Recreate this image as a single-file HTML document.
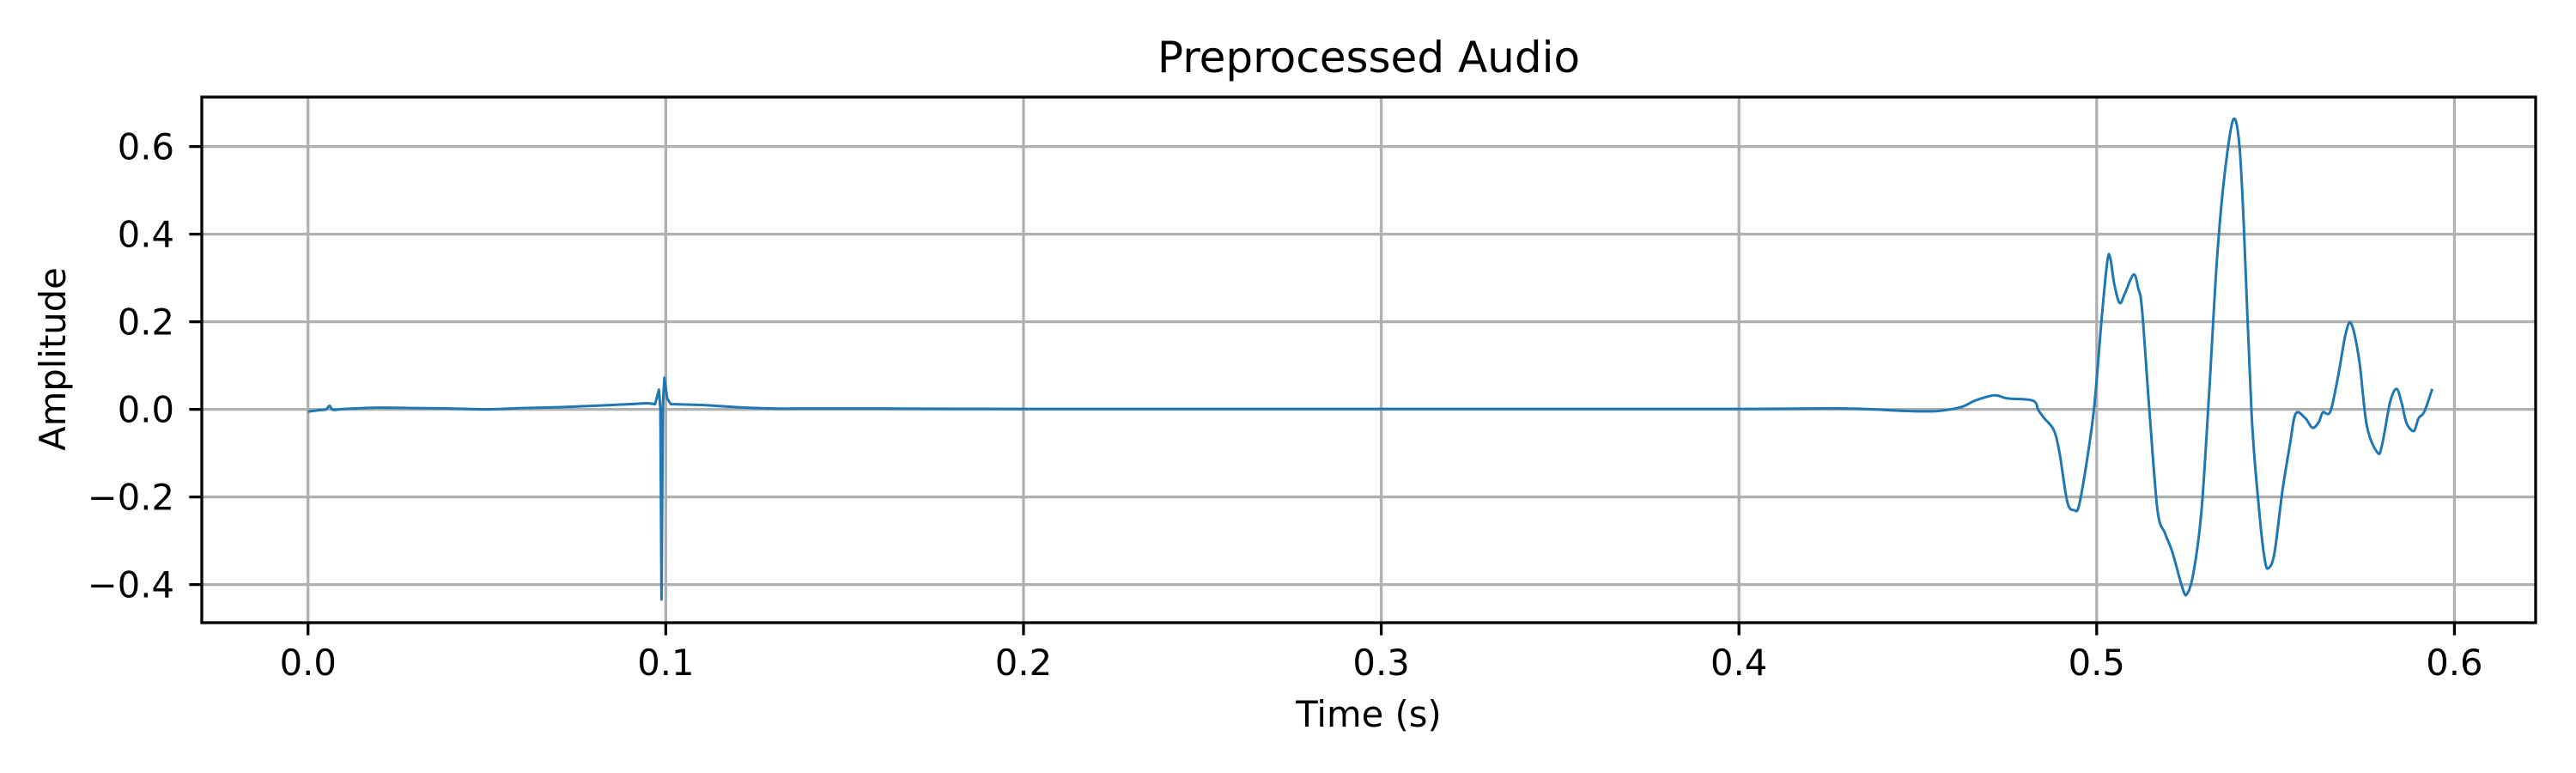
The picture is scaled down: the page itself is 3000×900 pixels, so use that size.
<!DOCTYPE html>
<html><head><meta charset="utf-8"><style>
html,body{margin:0;padding:0;background:#fff;}
svg{display:block;font-family:"DejaVu Sans","Liberation Sans",sans-serif;}
</style></head><body>
<svg id="chart" width="3000" height="900" viewBox="0 0 3000 900" xmlns="http://www.w3.org/2000/svg">
<rect x="0" y="0" width="3000" height="900" fill="#fff"/>
<text x="1594" y="84" font-size="50" text-anchor="middle">Preprocessed Audio</text>
<g id="grid"></g>
<g id="series"></g>
<rect x="235" y="113" width="2718" height="612" fill="none" stroke="#000" stroke-width="3.3"/>
<g id="axes"></g>
<text x="1594" y="846" font-size="41.7" text-anchor="middle">Time (s)</text>
<text transform="translate(76,418) rotate(-90)" font-size="41.7" text-anchor="middle">Amplitude</text>
</svg>
<script>
const times = [0,0.003,0.005,0.006,0.007,0.010,0.02,0.03,0.04,0.05,0.06,0.07,0.08,0.09,0.095,0.097,0.0981,0.0985,0.0988,0.0992,0.0996,0.1004,0.1014,0.11,0.12,0.13,0.15,0.2,0.25,0.3,0.35,0.4,0.43,0.445,0.455,0.462,0.466,0.4714,0.4750,0.4821,0.4837,0.4853,0.4880,0.4896,0.4918,0.4937,0.4950,0.4971,0.4993,0.5014,0.5030,0.5038,0.5049,0.5064,0.5079,0.5103,0.5116,0.5127,0.5148,0.5170,0.5191,0.5212,0.5239,0.5252,0.5271,0.5293,0.5314,0.5336,0.5357,0.5381,0.5398,0.5411,0.5433,0.5454,0.5470,0.5481,0.5497,0.5519,0.5540,0.5556,0.5583,0.5603,0.5621,0.5632,0.5653,0.5675,0.5696,0.5712,0.5734,0.5755,0.5785,0.5798,0.5820,0.5838,0.5852,0.5865,0.5879,0.5889,0.5900,0.5916,0.5938];
const amplitude = [-0.005,-0.002,0.0,0.008,-0.001,0.001,0.004,0.003,0.002,0.0,0.003,0.005,0.008,0.012,0.014,0.012,0.045,0.0,-0.434,0.01,0.072,0.025,0.012,0.01,0.005,0.002,0.002,0.001,0.001,0.001,0.001,0.001,0.002,-0.003,-0.004,0.005,0.020,0.032,0.025,0.020,-0.002,-0.020,-0.047,-0.099,-0.212,-0.230,-0.221,-0.126,0.006,0.208,0.340,0.345,0.287,0.243,0.265,0.308,0.277,0.226,-0.011,-0.230,-0.283,-0.327,-0.406,-0.422,-0.371,-0.230,0.033,0.340,0.532,0.660,0.611,0.426,-0.011,-0.230,-0.344,-0.362,-0.327,-0.187,-0.081,-0.010,-0.020,-0.042,-0.029,-0.007,-0.005,0.076,0.173,0.195,0.111,-0.037,-0.099,-0.080,0.016,0.047,0.016,-0.029,-0.047,-0.047,-0.020,-0.005,0.047];
const xTicks = [0.0,0.1,0.2,0.3,0.4,0.5,0.6];
const xTickLabels = ["0.0","0.1","0.2","0.3","0.4","0.5","0.6"];
const yTicks = [-0.4,-0.2,0.0,0.2,0.4,0.6];
const yTickLabels = ["\u22120.4","\u22120.2","0.0","0.2","0.4","0.6"];

const X0=235,X1=2953,Y0=113,Y1=725;
const xMin=-0.0297,xMax=0.6227,yMin=-0.487,yMax=0.713;
const xs=t=>X0+(t-xMin)/(xMax-xMin)*(X1-X0);
const ys=v=>Y1-(v-yMin)/(yMax-yMin)*(Y1-Y0);
const NS="http://www.w3.org/2000/svg";
const grid=document.getElementById('grid'),axes=document.getElementById('axes'),series=document.getElementById('series');
function mk(tag,attrs,parent){const e=document.createElementNS(NS,tag);for(const k in attrs)e.setAttribute(k,attrs[k]);parent.appendChild(e);return e;}
xTicks.forEach((t,i)=>{
  const x=xs(t);
  const g=mk('line',{x1:x,x2:x,y1:Y0,y2:Y1,stroke:'#b0b0b0','stroke-width':3.3},grid);
  
  
  const tk=mk('line',{x1:x,x2:x,y1:Y1,y2:Y1+14.6,stroke:'#000','stroke-width':3.3},axes);
  
  
  const lb=mk('text',{x:x,y:786,'font-size':41.7,'text-anchor':'middle'},axes);
  lb.textContent=xTickLabels[i];
  
  
});
yTicks.forEach((v,i)=>{
  const y=ys(v);
  const g=mk('line',{x1:X0,x2:X1,y1:y,y2:y,stroke:'#b0b0b0','stroke-width':3.3},grid);
  
  
  const tk=mk('line',{x1:X0-14.6,x2:X0,y1:y,y2:y,stroke:'#000','stroke-width':3.3},axes);
  
  
  const lb=mk('text',{x:203,y:y+15,'font-size':41.7,'text-anchor':'end'},axes);
  lb.textContent=yTickLabels[i];
  
  
});
const P=times.map((t,i)=>[xs(t),ys(amplitude[i])]);
let d='M'+P[0][0].toFixed(1)+','+P[0][1].toFixed(1);
for(let i=0;i<P.length-1;i++){
  const a=P[Math.max(i-1,0)],b=P[i],c=P[i+1],e=P[Math.min(i+2,P.length-1)];
  if(times[i+1]>0.096&&times[i]<0.102){d+=' L'+c[0].toFixed(1)+','+c[1].toFixed(1);continue;}
  const c1=[b[0]+(c[0]-a[0])/6,b[1]+(c[1]-a[1])/6];
  const c2=[c[0]-(e[0]-b[0])/6,c[1]-(e[1]-b[1])/6];
  d+=' C'+c1[0].toFixed(1)+','+c1[1].toFixed(1)+' '+c2[0].toFixed(1)+','+c2[1].toFixed(1)+' '+c[0].toFixed(1)+','+c[1].toFixed(1);
}
const p=mk('path',{d:d,fill:'none',stroke:'#1f77b4','stroke-width':3,'stroke-linejoin':'round'},series);


</script>
</body></html>
